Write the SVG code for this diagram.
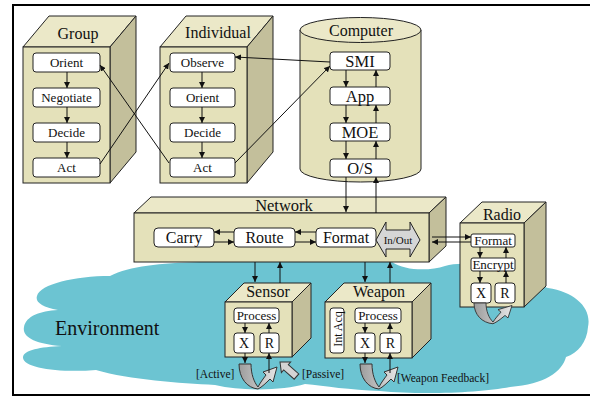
<svg xmlns="http://www.w3.org/2000/svg" width="590" height="396" viewBox="0 0 590 396">
  <style>
    .t { font-family: "Liberation Serif", "Times New Roman", serif; fill: #111; text-anchor: middle; }
    .front { fill: #e4e1ba; stroke: #222; stroke-width: 1; }
    .top { fill: #ebe8c8; stroke: #222; stroke-width: 1; }
    .side { fill: #c3bf9b; stroke: #222; stroke-width: 1; }
    .box { fill: #fff; stroke: #222; stroke-width: 1; }
    .ln { fill: none; stroke: #111; stroke-width: 1; }
    .arr { fill: none; stroke: #111; stroke-width: 1; marker-end: url(#ah); }
    .uturn { fill: url(#ug); stroke: #333; stroke-width: 1; }
  </style>
  <defs>
    <marker id="ah" viewBox="0 0 8 8" refX="8" refY="4" markerWidth="6" markerHeight="6" markerUnits="userSpaceOnUse" orient="auto">
      <path d="M0,0 L8,4 L0,8 z" fill="#111"/>
    </marker>
    <linearGradient id="ug" x1="0" y1="0" x2="1" y2="0">
      <stop offset="0" stop-color="#9c9c9c"/>
      <stop offset="1" stop-color="#e6e6e6"/>
    </linearGradient>
    <!-- U-turn feedback arrow, drawn from the top-left corner of its left arm -->
    <path id="uturn" class="uturn" d="M0,0 L12,0 C12,10 15,18 19,23 C21,19 24,15 27,11 L24,8 L38,3 L34,18 L31,15 C27,19 23,23 19,25 C8,24 0,14 0,0 Z"/>
  </defs>

  <rect width="590" height="396" fill="#fff"/>
  <rect x="13" y="5" width="590" height="390" fill="none" stroke="#000" stroke-width="2"/>

  <!-- environment cloud -->
  <path id="environment" fill="#6cc4d2" d="M37,296 C40,284 75,276 110,276 C130,266 160,263 200,262 C260,258 360,258 392,262 C405,271 430,271 445,266 C455,263 470,263 480,266 L548,288 C575,292 592,308 588,327 C587,342 578,353 566,357 C562,372 545,384 510,387 C480,393 420,395 380,391 C350,390 325,386 305,384 C285,390 245,392 215,385 C180,383 130,380 96,370 C60,373 22,368 23,357 C24,350 40,347 62,346 C35,344 22,337 24,327 C26,316 40,311 58,310 C42,307 35,302 37,296 Z"/>
  <text class="t" x="55" y="335" font-size="20" style="text-anchor:start">Environment</text>

  <!-- Group -->
  <g id="group">
    <polygon class="top" points="23,47 110,47 136,16 49,16"/>
    <polygon class="side" points="110,47 136,16 136,152 110,183"/>
    <rect class="front" x="23" y="47" width="87" height="136"/>
    <text class="t" x="78" y="39" font-size="16">Group</text>
    <rect class="box" x="33" y="53" width="67" height="19" rx="3"/>
    <text class="t" x="66.5" y="67" font-size="13">Orient</text>
    <rect class="box" x="33" y="88" width="67" height="19" rx="3"/>
    <text class="t" x="66.5" y="102" font-size="13">Negotiate</text>
    <rect class="box" x="33" y="123" width="67" height="19" rx="3"/>
    <text class="t" x="66.5" y="137" font-size="13">Decide</text>
    <rect class="box" x="33" y="158" width="67" height="19" rx="3"/>
    <text class="t" x="66.5" y="172" font-size="13">Act</text>
    <line class="arr" x1="67" y1="72" x2="67" y2="88"/>
    <line class="arr" x1="67" y1="107" x2="67" y2="123"/>
    <line class="arr" x1="67" y1="142" x2="67" y2="158"/>
  </g>

  <!-- Individual -->
  <g id="individual">
    <polygon class="top" points="160,47 247,47 273,16 186,16"/>
    <polygon class="side" points="247,47 273,16 273,152 247,183"/>
    <rect class="front" x="160" y="47" width="87" height="136"/>
    <text class="t" x="218" y="38" font-size="16">Individual</text>
    <rect class="box" x="170" y="53" width="65" height="19" rx="3"/>
    <text class="t" x="202.5" y="67" font-size="13">Observe</text>
    <rect class="box" x="170" y="88" width="65" height="19" rx="3"/>
    <text class="t" x="202.5" y="102" font-size="13">Orient</text>
    <rect class="box" x="170" y="123" width="65" height="19" rx="3"/>
    <text class="t" x="202.5" y="137" font-size="13">Decide</text>
    <rect class="box" x="170" y="158" width="65" height="19" rx="3"/>
    <text class="t" x="202.5" y="172" font-size="13">Act</text>
    <line class="arr" x1="202" y1="72" x2="202" y2="88"/>
    <line class="arr" x1="202" y1="107" x2="202" y2="123"/>
    <line class="arr" x1="202" y1="142" x2="202" y2="158"/>
  </g>

  <!-- Computer -->
  <g id="computer">
    <path class="front" d="M300,30 L300,169 A60.5,13 0 0 0 421,169 L421,30 Z"/>
    <ellipse class="top" cx="360.5" cy="30" rx="60.5" ry="12.5"/>
    <text class="t" x="361" y="36" font-size="16">Computer</text>
    <rect class="box" x="330" y="52" width="60" height="18" rx="3"/>
    <text class="t" x="360" y="67" font-size="16.5">SMI</text>
    <rect class="box" x="330" y="87" width="60" height="18" rx="3"/>
    <text class="t" x="360" y="102" font-size="16.5">App</text>
    <rect class="box" x="330" y="123" width="60" height="18" rx="3"/>
    <text class="t" x="360" y="138" font-size="16.5">MOE</text>
    <rect class="box" x="330" y="159" width="60" height="18" rx="3"/>
    <text class="t" x="360" y="174" font-size="16.5">O/S</text>
    <line class="arr" x1="346" y1="70" x2="346" y2="87"/>
    <line class="arr" x1="346" y1="105" x2="346" y2="123"/>
    <line class="arr" x1="346" y1="141" x2="346" y2="159"/>
    <line class="arr" x1="376" y1="87" x2="376" y2="70"/>
    <line class="arr" x1="376" y1="123" x2="376" y2="105"/>
    <line class="arr" x1="376" y1="159" x2="376" y2="141"/>
  </g>

  <!-- Network -->
  <g id="network">
    <polygon class="top" points="134,213 429,213 446,197 151,197"/>
    <polygon class="side" points="429,213 446,197 446,246 429,262"/>
    <rect class="front" x="134" y="213" width="295" height="49"/>
    <text class="t" x="284" y="211" font-size="16.5">Network</text>
    <rect class="box" x="154" y="228" width="60" height="19" rx="4"/>
    <text class="t" x="184" y="243" font-size="16">Carry</text>
    <rect class="box" x="234" y="228" width="61" height="19" rx="4"/>
    <text class="t" x="264.5" y="243" font-size="16">Route</text>
    <rect class="box" x="316" y="228" width="60" height="19" rx="4"/>
    <text class="t" x="346" y="243" font-size="16">Format</text>
    <line class="arr" x1="234" y1="232" x2="214" y2="232"/>
    <line class="arr" x1="214" y1="242" x2="234" y2="242"/>
    <line class="arr" x1="316" y1="232" x2="295" y2="232"/>
    <line class="arr" x1="295" y1="242" x2="316" y2="242"/>
    <polygon points="376,240 386,222 386,230 410,230 410,222 420,240 410,257 410,249 386,249 386,257" fill="#d6d6d6" stroke="#222" stroke-width="1"/>
    <text class="t" x="398" y="244" font-size="11">In/Out</text>
  </g>

  <!-- Sensor -->
  <g id="sensor">
    <polygon class="top" points="225,302 292,302 311,283 244,283"/>
    <polygon class="side" points="292,302 311,283 311,338 292,357"/>
    <rect class="front" x="225" y="302" width="67" height="55"/>
    <text class="t" x="268" y="297" font-size="16">Sensor</text>
    <rect class="box" x="234" y="308" width="45" height="15" rx="3"/>
    <text class="t" x="256.5" y="320" font-size="13">Process</text>
    <rect class="box" x="234" y="333" width="20" height="20" rx="3"/>
    <text class="t" x="244" y="348" font-size="14">X</text>
    <rect class="box" x="260" y="333" width="19" height="20" rx="3"/>
    <text class="t" x="269.5" y="348" font-size="14">R</text>
    <line class="arr" x1="245" y1="323" x2="245" y2="333"/>
    <line class="arr" x1="269" y1="333" x2="269" y2="323"/>
  </g>

  <!-- Weapon -->
  <g id="weapon">
    <polygon class="top" points="325,302 412,302 431,283 344,283"/>
    <polygon class="side" points="412,302 431,283 431,339 412,358"/>
    <rect class="front" x="325" y="302" width="87" height="56"/>
    <text class="t" x="379" y="297" font-size="16">Weapon</text>
    <rect class="box" x="330" y="308" width="14" height="45" rx="3"/>
    <text class="t" font-size="12" transform="translate(341.5,329) rotate(-90)">Int Acq</text>
    <rect class="box" x="355" y="308" width="46" height="15" rx="3"/>
    <text class="t" x="378" y="320" font-size="13">Process</text>
    <rect class="box" x="355" y="333" width="20" height="20" rx="3"/>
    <text class="t" x="365" y="348" font-size="14">X</text>
    <rect class="box" x="380" y="333" width="21" height="20" rx="3"/>
    <text class="t" x="390.5" y="348" font-size="14">R</text>
    <line class="arr" x1="365" y1="323" x2="365" y2="333"/>
    <line class="arr" x1="390" y1="333" x2="390" y2="323"/>
  </g>

  <!-- Radio -->
  <g id="radio">
    <polygon class="top" points="460,223 524,223 546,202 482,202"/>
    <polygon class="side" points="524,223 546,202 546,286 524,307"/>
    <rect class="front" x="460" y="223" width="64" height="84"/>
    <text class="t" x="502" y="220" font-size="16">Radio</text>
    <rect class="box" x="471" y="234" width="44" height="13" rx="2"/>
    <text class="t" x="493" y="245" font-size="13">Format</text>
    <rect class="box" x="471" y="258" width="44" height="13" rx="2"/>
    <text class="t" x="493" y="269" font-size="13">Encrypt</text>
    <rect class="box" x="471" y="283" width="20" height="20" rx="3"/>
    <text class="t" x="481" y="298" font-size="14">X</text>
    <rect class="box" x="495" y="283" width="20" height="20" rx="3"/>
    <text class="t" x="505" y="298" font-size="14">R</text>
    <line class="arr" x1="480" y1="247" x2="480" y2="258"/>
    <line class="arr" x1="480" y1="271" x2="480" y2="283"/>
    <line class="arr" x1="506" y1="258" x2="506" y2="247"/>
    <line class="arr" x1="506" y1="283" x2="506" y2="271"/>
  </g>

  <!-- connectors -->
  <g id="connectors">
    <line class="arr" x1="100" y1="164" x2="169" y2="63"/>
    <line class="arr" x1="169" y1="163" x2="100" y2="65"/>
    <line class="arr" x1="235" y1="163" x2="330" y2="66"/>
    <line class="arr" x1="330" y1="62" x2="235" y2="57"/>
    <line class="arr" x1="346" y1="177" x2="346" y2="212"/>
    <line class="arr" x1="376" y1="213" x2="376" y2="177"/>
    <line class="arr" x1="255" y1="262" x2="255" y2="282"/>
    <line class="arr" x1="280" y1="283" x2="280" y2="262"/>
    <line class="arr" x1="365" y1="262" x2="365" y2="282"/>
    <line class="arr" x1="390" y1="283" x2="390" y2="262"/>
    <line class="arr" x1="432" y1="237" x2="471" y2="237"/>
    <line class="arr" x1="471" y1="242" x2="432" y2="242"/>
    <line class="arr" x1="245" y1="353" x2="245" y2="363"/>
    <line class="arr" x1="365" y1="353" x2="365" y2="363"/>
    <use href="#uturn" transform="translate(239,364)"/>
    <use href="#uturn" transform="translate(360,364)"/>
    <use href="#uturn" transform="translate(474,303) scale(1,0.83)"/>
    <line class="arr" x1="269" y1="373" x2="269" y2="353"/>
    <line class="arr" x1="390" y1="373" x2="390" y2="353"/>
    <polygon transform="translate(280,362) rotate(41.4)" points="0,0 8,-7 8,-3.5 22,-3.5 22,3.5 8,3.5 8,7" fill="#d4d4d4" stroke="#333" stroke-width="1"/>
  </g>

  <text class="t" x="196" y="378" font-size="11.5" style="text-anchor:start">[Active]</text>
  <text class="t" x="302" y="378" font-size="11.5" style="text-anchor:start">[Passive]</text>
  <text class="t" x="397" y="382" font-size="11.5" style="text-anchor:start">[Weapon Feedback]</text>
</svg>
